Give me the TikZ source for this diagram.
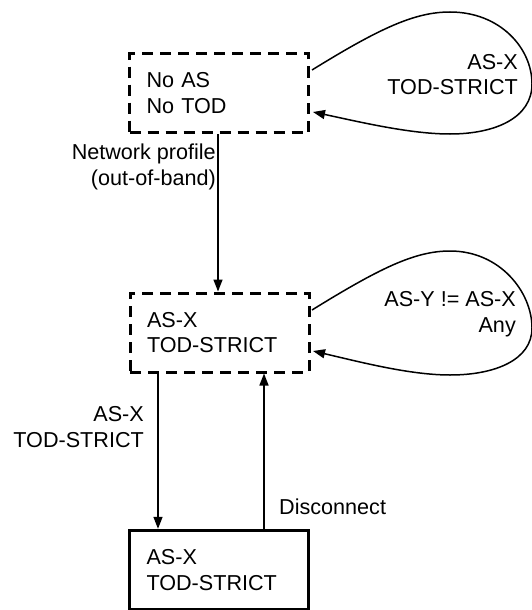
\documentclass[tikz,border=0pt]{standalone}
\usepackage{fontspec}
\setmainfont{Liberation Sans}
\usetikzlibrary{arrows.meta}
\begin{document}
\begin{tikzpicture}[x=1pt,y=-1pt,
  every node/.style={font=\fontsize{21.6}{25.5}\selectfont},
  state/.style={draw, line width=3.4pt, minimum width=179pt, minimum height=79pt,
    inner xsep=17pt, text width=145pt, align=left},
  pending/.style={state, line width=3pt, dash pattern=on 11pt off 7pt},
  lbl/.style={inner sep=0pt},
  arr/.style={line width=1.5pt, -{Triangle[length=12pt,width=9pt]}}]
\useasboundingbox (0,0) rectangle (531,610);

% states
\node[pending] (none)   at (219,93)    {No AS\\No TOD};
\node[pending] (strict) at (219.5,332.5) {AS-X\\TOD-STRICT};
\node[state]   (conn)   at (219,570)   {AS-X\\TOD-STRICT};

% transition end points
\coordinate (l1s) at (312,70);  \coordinate (l1e) at (313,112);
\coordinate (l2s) at (312,310); \coordinate (l2e) at (313,351);

% self loops
\draw[arr] (l1s) .. controls (380,28) and (415,12) .. (450,12)
  .. controls (500,12) and (532,48) .. (532,84)
  .. controls (532,118) and (495,134) .. (450,134)
  .. controls (410,134) and (360,122) .. (l1e);
\draw[arr] (l2s) .. controls (380,268) and (415,251) .. (450,251)
  .. controls (500,251) and (532,292) .. (532,328)
  .. controls (532,360) and (495,375) .. (450,375)
  .. controls (410,375) and (360,362) .. (l2e);

\node[lbl, align=right, anchor=east] at (518,74.5) {AS-X\\TOD-STRICT};
\node[lbl, align=right, anchor=east] at (516,314) {AS-Y != AS-X\\Any};

% vertical transitions
\draw[arr] ([xshift=-1pt]none.south) -- ([xshift=-1.5pt]strict.north);
\node[lbl, align=right, anchor=east] at (216,167) {Network profile\\(out-of-band)};

\draw[arr] ([xshift=-61.5pt]strict.south) -- ([xshift=-61pt]conn.north);
\node[lbl, align=right, anchor=east] at (144,427) {AS-X\\TOD-STRICT};

\draw[arr] ([xshift=45pt]conn.north) -- ([xshift=44.5pt]strict.south);
\node[lbl, anchor=west] at (279,507) {Disconnect};
\end{tikzpicture}
\end{document}
